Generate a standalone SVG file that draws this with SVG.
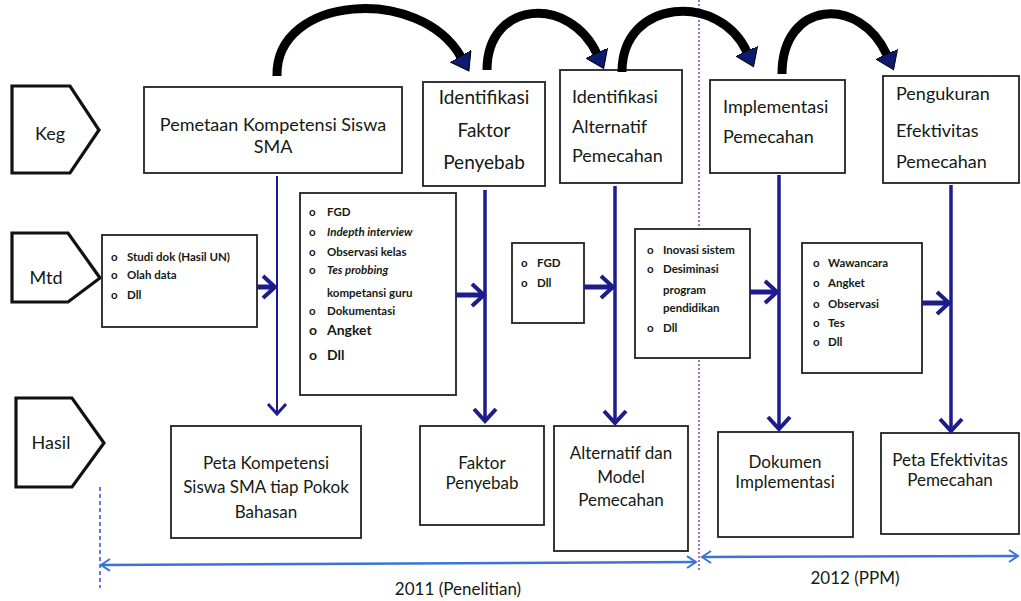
<svg xmlns="http://www.w3.org/2000/svg" width="1021" height="601" viewBox="0 0 1021 601">
<style>
text{font-family:Lato,"Open Sans","Liberation Sans",sans-serif;fill:#141a14}
.box{fill:#fff;stroke:#222;stroke-width:1.8}
.tag{fill:#fff;stroke:#111;stroke-width:3.2;stroke-linejoin:miter}
.lbl{font-size:18px;text-anchor:middle}
.big{font-size:18px}
.hasil{font-size:17px;text-anchor:middle}
.sm{font-size:11.5px;font-weight:bold}
.md{font-size:14px;font-weight:bold}
.curve{fill:none;stroke:#000;stroke-width:9}
.vl{fill:none;stroke:#1c1c8c;stroke-width:3.5}
.hl{fill:none;stroke:#1c1c8c;stroke-width:5}
.tl{fill:none;stroke:#3b74d6;stroke-width:2.5}
</style>
<defs>
<marker id="bighead" markerUnits="userSpaceOnUse" markerWidth="18" markerHeight="24" viewBox="0 0 18 24" refX="1" refY="12" orient="auto">
<path d="M0,0 L17,12 L0,24 z" fill="#0e1a6e" stroke="#000" stroke-width="1"/>
</marker>
<marker id="chev" markerUnits="userSpaceOnUse" markerWidth="18" markerHeight="28" viewBox="-3 -3 18 28" refX="12" refY="11" orient="auto">
<path d="M0,0 L12,11 L0,22" fill="none" stroke="#1c1c8c" stroke-width="4"/>
</marker>
<marker id="chevs" markerUnits="userSpaceOnUse" markerWidth="16" markerHeight="24" viewBox="-3 -3 16 24" refX="10" refY="9" orient="auto">
<path d="M0,0 L10,9 L0,18" fill="none" stroke="#1c1c8c" stroke-width="3"/>
</marker>
<marker id="tlh" markerUnits="userSpaceOnUse" markerWidth="14" markerHeight="16" viewBox="-2 -2 14 16" refX="9" refY="6" orient="auto-start-reverse">
<path d="M0,0 L9,6 L0,12" fill="none" stroke="#3b74d6" stroke-width="2"/>
</marker>
</defs>

<!-- guide lines -->
<line x1="699" y1="0" x2="699" y2="572" stroke="#8a3fd0" stroke-width="1.5" stroke-dasharray="2,2"/>
<line x1="100" y1="487" x2="100" y2="588" stroke="#3050c8" stroke-width="1.5" stroke-dasharray="4,3"/>

<!-- row labels -->
<g id="tag-keg"><path class="tag" d="M12,86 H70 L99,130 L70,173 H12 Z"/><text x="50" y="140" class="lbl">Keg</text></g>
<g id="tag-mtd"><path class="tag" d="M12,233 H68 L100,278 L68,302 H12 Z"/><text x="46" y="284" class="lbl">Mtd</text></g>
<g id="tag-hasil"><path class="tag" d="M16,398 H72 L104,443 L72,487 H16 Z"/><text x="51" y="449" class="lbl">Hasil</text></g>

<!-- Keg row -->
<g id="keg1"><rect class="box" x="144" y="87" width="258" height="86"/>
<text x="273" y="131" class="lbl">Pemetaan Kompetensi Siswa</text><text x="273" y="153" class="lbl">SMA</text></g>
<g id="keg2"><rect class="box" x="423" y="82" width="122" height="104"/>
<text x="484" y="104" class="lbl" style="font-size:19px">Identifikasi</text><text x="484" y="137" class="lbl" style="font-size:19px">Faktor</text><text x="484" y="169" class="lbl" style="font-size:19px">Penyebab</text></g>
<g id="keg3"><rect class="box" x="560" y="70" width="122" height="113"/>
<text x="572" y="103" class="big">Identifikasi</text><text x="572" y="133" class="big">Alternatif</text><text x="572" y="162" class="big">Pemecahan</text></g>
<g id="keg4"><rect class="box" x="710" y="80" width="135" height="93"/>
<text x="723" y="113" class="big">Implementasi</text><text x="723" y="143" class="big">Pemecahan</text></g>
<g id="keg5"><rect class="box" x="883" y="76" width="136" height="107"/>
<text x="896" y="100" class="big">Pengukuran</text><text x="896" y="137" class="big">Efektivitas</text><text x="896" y="168" class="big">Pemecahan</text></g>

<!-- Mtd row -->
<g id="mtd1"><rect class="box" x="102" y="235" width="155" height="92"/>
<text class="sm"><tspan x="111" y="261">o</tspan><tspan x="127" y="261">Studi dok (Hasil UN)</tspan><tspan x="111" y="279">o</tspan><tspan x="127" y="279">Olah data</tspan><tspan x="111" y="299">o</tspan><tspan x="127" y="299">Dll</tspan></text></g>
<g id="mtd2"><rect class="box" x="300" y="193" width="156" height="202"/>
<text class="sm"><tspan x="309" y="216">o</tspan><tspan x="327" y="216">FGD</tspan>
<tspan x="309" y="236">o</tspan><tspan x="327" y="236" font-style="italic">Indepth interview</tspan>
<tspan x="309" y="256">o</tspan><tspan x="327" y="256">Observasi kelas</tspan>
<tspan x="309" y="274">o</tspan><tspan x="327" y="274" font-style="italic">Tes probbing</tspan>
<tspan x="327" y="297">kompetansi guru</tspan>
<tspan x="309" y="315">o</tspan><tspan x="327" y="315">Dokumentasi</tspan></text>
<text class="md"><tspan x="309" y="335">o</tspan><tspan x="327" y="335">Angket</tspan><tspan x="309" y="360">o</tspan><tspan x="327" y="360">Dll</tspan></text></g>
<g id="mtd3"><rect class="box" x="512" y="243" width="72" height="80"/>
<text class="sm"><tspan x="521" y="267">o</tspan><tspan x="537" y="267">FGD</tspan><tspan x="521" y="287">o</tspan><tspan x="537" y="287">Dll</tspan></text></g>
<g id="mtd4"><rect class="box" x="635" y="229" width="115" height="129"/>
<text class="sm"><tspan x="647" y="254">o</tspan><tspan x="663" y="254">Inovasi sistem</tspan>
<tspan x="647" y="273">o</tspan><tspan x="663" y="273">Desiminasi</tspan>
<tspan x="663" y="294">program</tspan><tspan x="663" y="312">pendidikan</tspan>
<tspan x="647" y="332">o</tspan><tspan x="663" y="332">Dll</tspan></text></g>
<g id="mtd5"><rect class="box" x="802" y="243" width="120" height="130"/>
<text class="sm"><tspan x="813" y="267">o</tspan><tspan x="828" y="267">Wawancara</tspan>
<tspan x="813" y="287">o</tspan><tspan x="828" y="287">Angket</tspan>
<tspan x="813" y="308">o</tspan><tspan x="828" y="308">Observasi</tspan>
<tspan x="813" y="327">o</tspan><tspan x="828" y="327">Tes</tspan>
<tspan x="813" y="346">o</tspan><tspan x="828" y="346">Dll</tspan></text></g>

<!-- Hasil row -->
<g id="hasil1"><rect class="box" x="171" y="426" width="190" height="112"/>
<text x="266" y="469" class="hasil">Peta Kompetensi</text><text x="266" y="493" class="hasil">Siswa SMA tiap Pokok</text><text x="266" y="518" class="hasil">Bahasan</text></g>
<g id="hasil2"><rect class="box" x="420" y="426" width="124" height="99"/>
<text x="482" y="469" class="hasil">Faktor</text><text x="482" y="489" class="hasil">Penyebab</text></g>
<g id="hasil3"><rect class="box" x="554" y="426" width="134" height="125"/>
<text x="621" y="459" class="hasil">Alternatif  dan</text><text x="621" y="483" class="hasil">Model</text><text x="621" y="506" class="hasil">Pemecahan</text></g>
<g id="hasil4"><rect class="box" x="718" y="432" width="135" height="105"/>
<text x="785" y="468" class="hasil">Dokumen</text><text x="785" y="488" class="hasil">Implementasi</text></g>
<g id="hasil5"><rect class="box" x="881" y="433" width="138" height="101"/>
<text x="950" y="466" class="hasil">Peta Efektivitas</text><text x="950" y="486" class="hasil">Pemecahan</text></g>

<!-- connectors -->
<g id="connectors">
<path class="curve" d="M277,76 C275,-5 420,-15 461,57" marker-end="url(#bighead)"/>
<path class="curve" d="M487,70 C487,0 570,-5 597,54" marker-end="url(#bighead)"/>
<path class="curve" d="M622,72 C622,-2 720,-8 747,52" marker-end="url(#bighead)"/>
<path class="curve" d="M782,74 C782,0 860,-5 887,55" marker-end="url(#bighead)"/>

<path class="vl" style="stroke-width:2" d="M277,176 V414" marker-end="url(#chevs)"/>
<path class="vl" d="M485,190 V421" marker-end="url(#chev)"/>
<path class="vl" d="M615,186 V423" marker-end="url(#chev)"/>
<path class="vl" d="M779,175 V429" marker-end="url(#chev)"/>
<path class="vl" d="M951,185 V431" marker-end="url(#chev)"/>

<path class="hl" d="M257,287 H275" marker-end="url(#chev)"/>
<path class="hl" d="M456,295 H484" marker-end="url(#chev)"/>
<path class="hl" d="M584,287 H613" marker-end="url(#chev)"/>
<path class="hl" d="M750,292 H777" marker-end="url(#chev)"/>
<path class="hl" d="M922,303 H949" marker-end="url(#chev)"/>

<path class="tl" d="M101,565 L696,562" marker-start="url(#tlh)" marker-end="url(#tlh)"/>
<path class="tl" d="M702,557 L1018,556" marker-start="url(#tlh)" marker-end="url(#tlh)"/>
</g>

<text x="458" y="595" style="font-size:17px;text-anchor:middle">2011 (Penelitian)</text>
<text x="855" y="584" style="font-size:17px;text-anchor:middle">2012 (PPM)</text>
</svg>
